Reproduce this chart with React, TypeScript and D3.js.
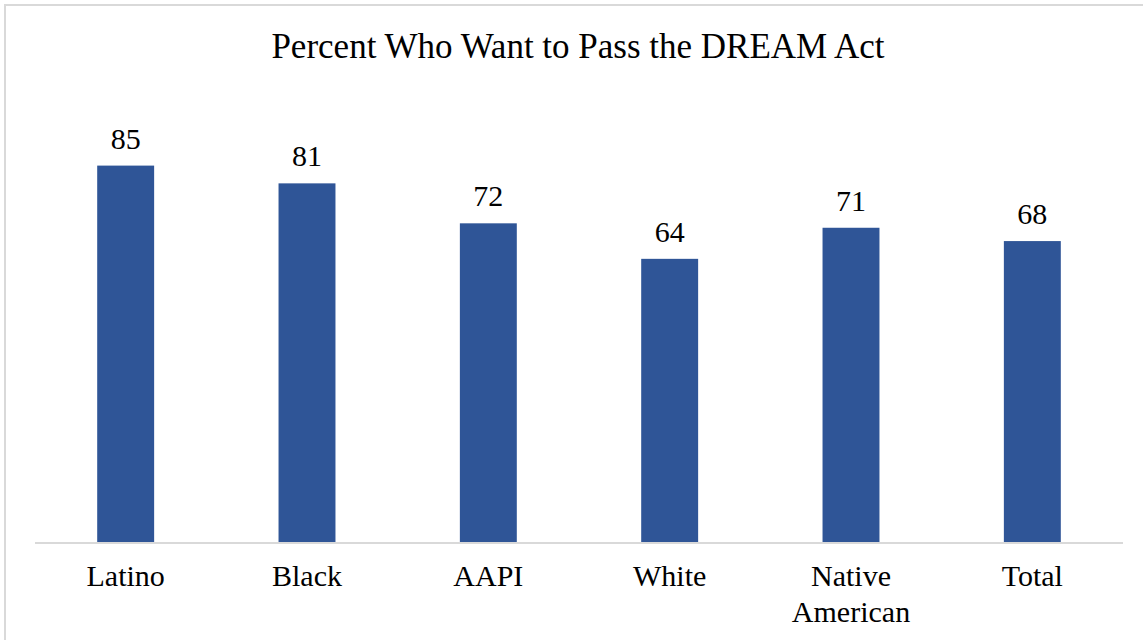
import React from "react";
import * as d3 from "d3";

const categories: string[][] = [["Latino"], ["Black"], ["AAPI"], ["White"], ["Native", "American"], ["Total"]];
const values: number[] = [85, 81, 72, 64, 71, 68];
const title = "Percent Who Want to Pass the DREAM Act";

const W = 1143;
const H = 640;

export default function App() {
  React.useEffect(() => {
    document.body.style.margin = "0";
  }, []);
  const left = 35;
  const right = 1123;
  const baseline = 543;
  const x = d3
    .scaleBand<number>()
    .domain(values.map((_, i) => i))
    .range([left, right])
    .paddingInner(0.686)
    .paddingOuter(0.343);
  const y = d3.scaleLinear().domain([0, 100]).range([baseline, baseline - 444]);
  const fontStyle = { fontFamily: "Liberation Serif" };
  return (
    <svg width={W} height={H} style={{ display: "block", background: "#fff" }}>
      <rect x={5} y={5} width={W + 10} height={H + 10} fill="#fff" stroke="#d9d9d9" strokeWidth={2} />
      <text x={578} y={58} textAnchor="middle" style={fontStyle} fontSize={35} fill="#000">
        {title}
      </text>
      {values.map((v, i) => (
        <g key={i}>
          <rect x={x(i)} y={y(v)} width={x.bandwidth()} height={baseline - y(v)} fill="#2f5597" />
          <text
            x={(x(i) as number) + x.bandwidth() / 2}
            y={y(v) - 17}
            textAnchor="middle"
            style={fontStyle}
            fontSize={30}
            fill="#000"
          >
            {v}
          </text>
        </g>
      ))}
      <line x1={left} x2={right} y1={baseline} y2={baseline} stroke="#d9d9d9" strokeWidth={2} />
      {categories.map((lines, i) => (
        <text
          key={i}
          x={(x(i) as number) + x.bandwidth() / 2}
          textAnchor="middle"
          style={fontStyle}
          fontSize={30}
          fill="#000"
        >
          {lines.map((l, j) => (
            <tspan key={j} x={(x(i) as number) + x.bandwidth() / 2} y={586 + j * 35.7}>
              {l}
            </tspan>
          ))}
        </text>
      ))}
    </svg>
  );
}
